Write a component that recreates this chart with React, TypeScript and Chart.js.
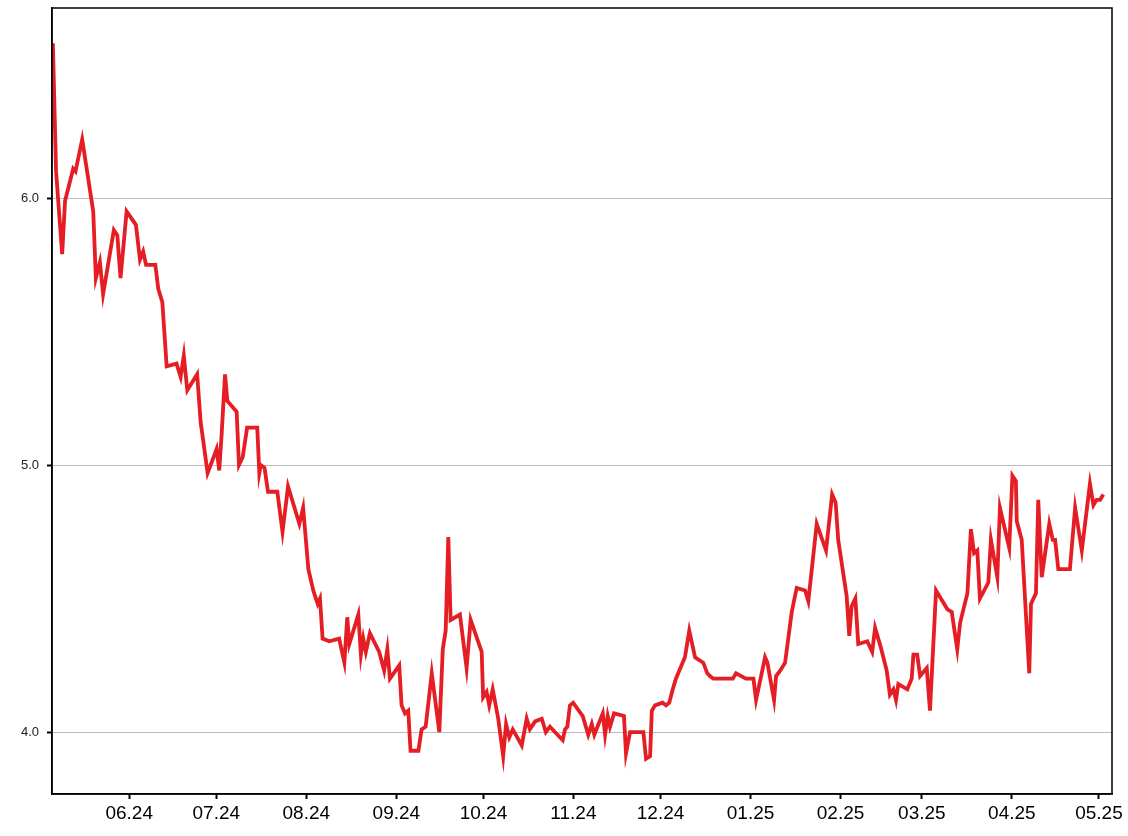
import React, { useEffect, useRef } from "react";
import { Chart, registerables } from "chart.js";

Chart.register(...registerables);

// Days since 2024-05-01
const dayOffsets = [4.7, 5.8, 7.9, 8.9, 11.7, 12.5, 14.8, 18.6, 19.5, 20.9, 22.0, 25.7, 26.9, 28.0, 30.1, 33.3, 34.7, 35.8, 36.8, 40.0, 41.0, 42.4, 43.9, 47.3, 48.7, 49.8, 51.0, 54.4, 55.6, 56.5, 58.0, 61.1, 62.0, 62.8, 64.0, 64.8, 68.0, 68.8, 70.1, 71.6, 75.1, 75.8, 76.3, 77.6, 78.8, 82.0, 83.8, 85.7, 89.6, 90.9, 92.7, 94.4, 95.9, 96.7, 97.6, 99.9, 103.3, 105.1, 106.1, 106.8, 109.9, 110.8, 111.6, 112.5, 113.9, 117.1, 118.8, 119.9, 120.8, 124.0, 124.8, 126.0, 127.1, 127.9, 130.6, 131.7, 133.1, 135.2, 137.8, 139.0, 140.0, 140.9, 141.7, 144.9, 147.2, 148.6, 152.4, 152.9, 154.1, 155.0, 156.2, 158.1, 159.8, 160.8, 161.9, 163.1, 166.2, 167.9, 169.0, 170.8, 173.1, 174.5, 175.9, 177.6, 180.3, 181.1, 181.9, 182.8, 183.9, 187.2, 189.1, 190.3, 191.2, 194.1, 194.9, 195.8, 196.6, 198.0, 201.4, 202.1, 203.5, 208.1, 209.0, 210.4, 211.0, 212.1, 214.7, 215.9, 217.0, 218.2, 219.3, 222.4, 223.9, 225.9, 228.7, 230.1, 231.0, 232.2, 233.3, 238.9, 240.0, 243.4, 246.0, 246.9, 250.0, 250.8, 253.1, 253.8, 255.2, 256.9, 259.2, 260.9, 263.8, 264.9, 266.4, 267.8, 271.0, 273.1, 274.3, 275.2, 278.1, 279.0, 279.8, 281.1, 282.1, 285.2, 286.9, 287.9, 289.8, 291.9, 293.0, 294.2, 295.1, 295.9, 299.0, 300.5, 301.1, 302.4, 303.4, 305.7, 306.8, 308.9, 312.8, 314.3, 316.2, 317.2, 319.7, 320.9, 322.0, 323.1, 324.0, 326.9, 327.8, 330.0, 330.9, 334.1, 335.2, 336.4, 336.7, 338.4, 341.0, 341.6, 343.3, 344.1, 345.3, 347.9, 349.1, 349.9, 351.0, 355.0, 356.8, 359.1, 361.9, 363.1, 364.2, 365.4, 366.5];

const values = [6.58, 6.10, 5.79, 5.99, 6.11, 6.10, 6.22, 5.95, 5.70, 5.76, 5.64, 5.88, 5.86, 5.70, 5.95, 5.90, 5.77, 5.80, 5.75, 5.75, 5.66, 5.61, 5.37, 5.38, 5.33, 5.41, 5.28, 5.34, 5.16, 5.09, 4.97, 5.06, 4.98, 5.11, 5.34, 5.24, 5.20, 5.00, 5.03, 5.14, 5.14, 4.97, 5.00, 4.99, 4.90, 4.90, 4.75, 4.92, 4.78, 4.84, 4.61, 4.53, 4.48, 4.50, 4.35, 4.34, 4.35, 4.26, 4.43, 4.33, 4.44, 4.29, 4.35, 4.30, 4.37, 4.30, 4.23, 4.31, 4.20, 4.25, 4.10, 4.07, 4.08, 3.93, 3.93, 4.01, 4.02, 4.22, 4.00, 4.31, 4.38, 4.73, 4.42, 4.44, 4.24, 4.42, 4.30, 4.13, 4.15, 4.10, 4.16, 4.05, 3.91, 4.03, 3.98, 4.01, 3.95, 4.05, 4.01, 4.04, 4.05, 4.00, 4.02, 4.00, 3.97, 4.01, 4.02, 4.10, 4.11, 4.06, 3.99, 4.03, 3.99, 4.07, 3.99, 4.06, 4.02, 4.07, 4.06, 3.92, 4.00, 4.00, 3.90, 3.91, 4.08, 4.10, 4.11, 4.10, 4.11, 4.16, 4.20, 4.28, 4.38, 4.28, 4.26, 4.22, 4.21, 4.20, 4.20, 4.20, 4.22, 4.20, 4.20, 4.12, 4.28, 4.26, 4.12, 4.21, 4.23, 4.26, 4.45, 4.54, 4.53, 4.49, 4.64, 4.78, 4.68, 4.89, 4.86, 4.72, 4.51, 4.36, 4.47, 4.50, 4.33, 4.34, 4.30, 4.39, 4.32, 4.23, 4.14, 4.16, 4.12, 4.18, 4.16, 4.20, 4.29, 4.29, 4.21, 4.24, 4.08, 4.53, 4.46, 4.45, 4.31, 4.41, 4.52, 4.76, 4.67, 4.68, 4.50, 4.56, 4.72, 4.58, 4.84, 4.69, 4.96, 4.94, 4.79, 4.72, 4.22, 4.48, 4.52, 4.87, 4.58, 4.78, 4.72, 4.72, 4.61, 4.61, 4.84, 4.68, 4.93, 4.85, 4.87, 4.87, 4.89];

const monthTickDays = [31, 61, 92, 123, 153, 184, 214, 245, 276, 304, 335, 365];
const monthTickLabels = ["06.24", "07.24", "08.24", "09.24", "10.24", "11.24", "12.24", "01.25", "02.25", "03.25", "04.25", "05.25"];
const yTickValues = [4, 5, 6];

const xMin = 4.4;
const xMax = 369.5;
const yMin = 3.768;
const yMax = 6.712;

const boxPlugin = {
  id: "boxFrame",
  afterDraw(chart: any) {
    const { ctx, chartArea } = chart;
    const { left, right, top, bottom } = chartArea;
    ctx.save();
    ctx.strokeStyle = "#000";
    ctx.lineWidth = 1.5;
    ctx.strokeRect(left, top, right - left, bottom - top);
    ctx.restore();
  },
};

export default function App() {
  const canvasRef = useRef<HTMLCanvasElement | null>(null);

  useEffect(() => {
    document.body.style.margin = "0";
    const canvas = canvasRef.current;
    if (!canvas) return;
    const points = dayOffsets.map((d, i) => ({ x: d, y: values[i] }));
    const chart = new Chart(canvas, {
      type: "line",
      data: {
        datasets: [
          {
            data: points,
            borderColor: "rgb(228,30,36)",
            borderWidth: 3.8,
            pointRadius: 0,
            tension: 0,
            fill: false,
          },
        ],
      },
      options: {
        animation: false,
        responsive: false,
        maintainAspectRatio: false,
        layout: { padding: { top: 8, right: 16, left: 0, bottom: 0 } },
        plugins: {
          legend: { display: false },
          tooltip: { enabled: false },
          title: { display: false },
        },
        scales: {
          x: {
            type: "linear",
            min: xMin,
            max: xMax,
            afterBuildTicks: (scale: any) => {
              scale.ticks = monthTickDays.map((v) => ({ value: v }));
            },
            afterFit: (scale: any) => {
              scale.height = 42;
              scale.paddingLeft = 0;
              scale.paddingRight = 0;
            },
            ticks: {
              autoSkip: false,
              maxRotation: 0,
              minRotation: 0,
              padding: 3,
              color: "#000",
              font: { family: "'Liberation Sans', Arial, sans-serif", size: 19 },
              callback: (_v: any, i: number) => monthTickLabels[i],
            },
            grid: {
              drawOnChartArea: false,
              drawTicks: true,
              tickLength: 5,
              tickColor: "#000",
              tickWidth: 2,
            },
            border: { display: true, color: "#000", width: 1.5 },
          },
          y: {
            type: "linear",
            min: yMin,
            max: yMax,
            afterBuildTicks: (scale: any) => {
              scale.ticks = yTickValues.map((v) => ({ value: v }));
            },
            afterFit: (scale: any) => {
              scale.width = 52;
              scale.paddingTop = 0;
              scale.paddingBottom = 0;
            },
            ticks: {
              padding: 8,
              color: "#222",
              font: { family: "'Liberation Sans', Arial, sans-serif", size: 13 },
              callback: (v: any) => Number(v).toFixed(1),
            },
            grid: {
              drawOnChartArea: true,
              drawTicks: true,
              tickLength: 5,
              color: "#777",
              lineWidth: 1,
              tickColor: "#000",
              tickWidth: 2,
              tickBorderDash: [],
            },
            border: { display: true, color: "#000", width: 1.5, dash: [1, 1] },
          },
        },
      },
      plugins: [boxPlugin],
    } as any);
    return () => {
      chart.destroy();
    };
  }, []);

  return (
    <div style={{ width: 1128, height: 836 }}>
      <canvas ref={canvasRef} width={1128} height={836} style={{ display: "block" }} />
    </div>
  );
}
